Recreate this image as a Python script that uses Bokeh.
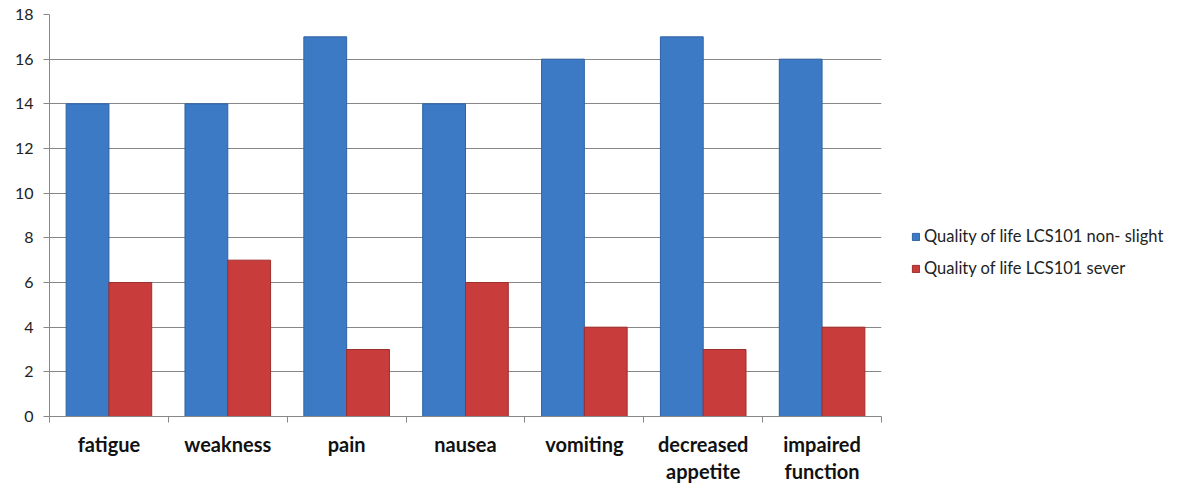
import numpy as np
from bokeh.plotting import figure
from bokeh.models import (ColumnDataSource, FixedTicker, Legend, LegendItem, Range1d)
from bokeh.transform import dodge
from bokeh.embed import file_html
from bokeh.resources import INLINE

categories = ["fatigue", "weakness", "pain", "nausea", "vomiting",
              "decreased\nappetite", "impaired\nfunction"]
non_slight = [14, 14, 17, 14, 16, 17, 16]
sever = [6, 7, 3, 6, 4, 3, 4]
series_names = ["Quality of life LCS101 non- slight", "Quality of life LCS101 sever"]
y_ticks = list(range(0, 19, 2))

pos = np.arange(len(categories)) + 0.5
src = ColumnDataSource(dict(x=pos, a=non_slight, b=sever, cat=categories))

FONT = "Lato"
GRID = "#878787"

p = figure(frame_width=832, frame_height=402, output_backend="svg", toolbar_location=None,
           x_range=Range1d(0, len(categories)), y_range=Range1d(0, 18),
           min_border_left=49, min_border_top=14, min_border_right=4,
           min_border_bottom=60)
p.outline_line_color = None
p.background_fill_color = "white"

bw = 0.36
r1 = p.vbar(x=dodge("x", -bw / 2), top="a", width=bw, source=src,
            fill_color="#3d7ac6", line_color="#2f62a3", line_width=1)
r2 = p.vbar(x=dodge("x", bw / 2), top="b", width=bw, source=src,
            fill_color="#c83d3b", line_color="#9e2e2c", line_width=1)

# axes
p.yaxis.ticker = FixedTicker(ticks=y_ticks)
p.yaxis.major_tick_out = 6
p.yaxis.major_tick_in = 0
p.yaxis.minor_tick_line_color = None
p.yaxis.axis_line_color = GRID
p.yaxis.major_tick_line_color = GRID
p.yaxis.major_label_text_font = FONT
p.yaxis.major_label_text_font_size = "16px"
p.yaxis.major_label_text_color = "#222222"
p.yaxis.major_label_standoff = 10

p.xaxis.ticker = FixedTicker(ticks=list(pos), minor_ticks=list(range(len(categories) + 1)))
p.xaxis.major_label_overrides = {float(x): c for x, c in zip(pos, categories)}
p.xaxis.major_tick_line_color = None
p.xaxis.major_tick_out = 6
p.xaxis.minor_tick_line_color = GRID
p.xaxis.minor_tick_out = 6
p.xaxis.minor_tick_in = 0
p.xaxis.axis_line_color = GRID
p.xaxis.major_label_text_font = FONT
p.xaxis.major_label_text_font_style = "bold"
p.xaxis.major_label_text_font_size = "20px"
p.xaxis.major_label_text_color = "#111111"
p.xaxis.major_label_standoff = 9
p.xaxis.major_label_text_line_height = 1.15

p.xgrid.grid_line_color = None
p.ygrid.ticker = FixedTicker(ticks=y_ticks)
p.ygrid.grid_line_color = GRID
p.ygrid.grid_line_width = 1

legend = Legend(items=[LegendItem(label=series_names[0], renderers=[r1]),
                       LegendItem(label=series_names[1], renderers=[r2])],
                location=(30, 138), orientation="vertical",
                glyph_width=9, glyph_height=9, label_height=17, spacing=12,
                label_standoff=4, padding=0, margin=0,
                border_line_color=None, background_fill_alpha=0,
                label_text_font=FONT, label_text_font_size="16.5px",
                label_text_color="#222222")
p.add_layout(legend, "right")

open("out.html", "w").write(file_html(p, INLINE))
